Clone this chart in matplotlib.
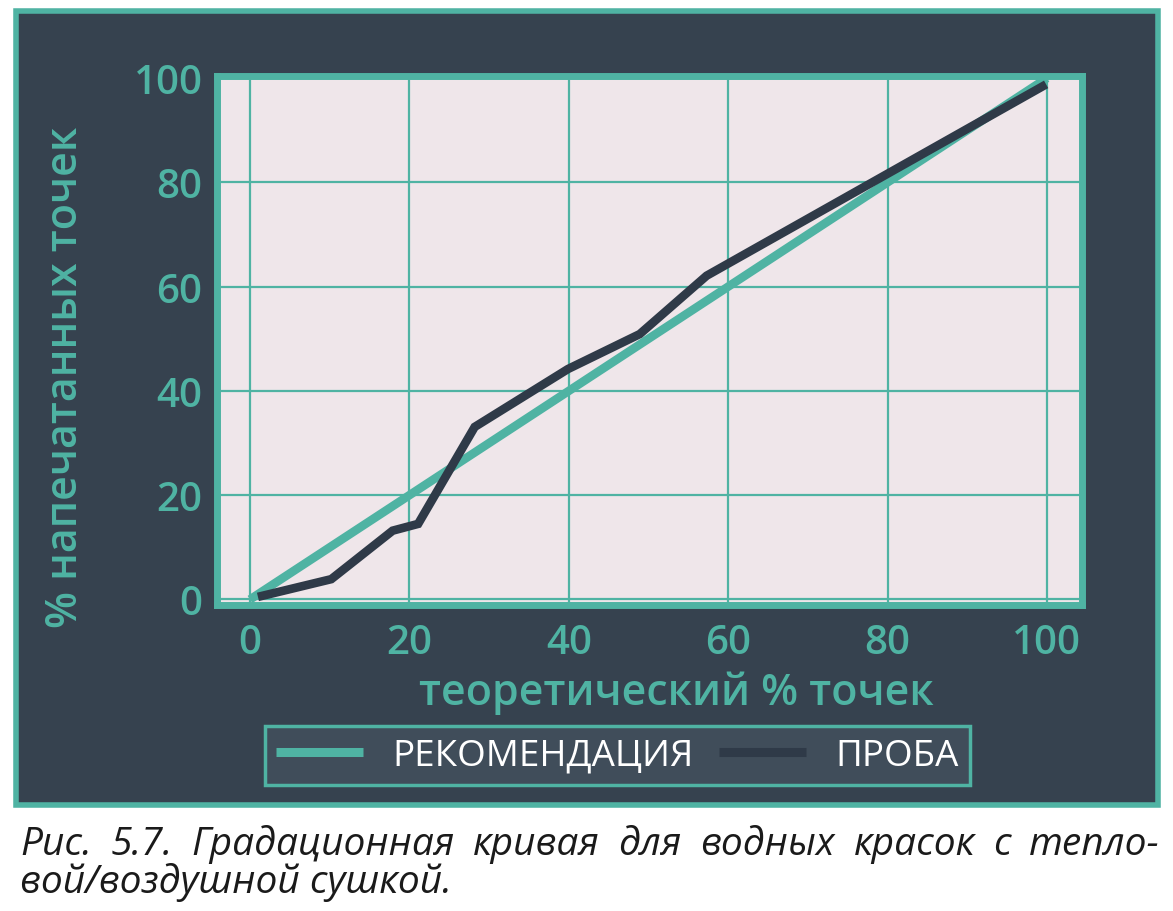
import matplotlib
matplotlib.use('Agg')
import matplotlib.pyplot as plt
from matplotlib.patches import Rectangle

# Data
theory_x = [0, 100]
theory_y = [0, 100]
sample_x = [1, 10.2, 17.9, 21.1, 28.2, 39.9, 48.9, 57.3, 99.9]
sample_y = [0.5, 3.9, 13.2, 14.5, 33.1, 44.2, 50.9, 62.1, 98.8]
ticks = [0, 20, 40, 60, 80, 100]
caption_1 = 'Рис. 5.7. Градационная кривая для водных красок с тепло-'
caption_2 = 'вой/воздушной сушкой.'

TEAL = '#4fb3a3'
DARK = '#2f3a48'
PANEL = '#36424f'
PLOT_BG = '#efe6ea'

plt.rcParams['font.family'] = ['Open Sans', 'DejaVu Sans']

W, H = 1173, 912
fig = plt.figure(figsize=(W / 100, H / 100), dpi=100)
fig.patch.set_facecolor('white')

# dark panel with teal border
panel = Rectangle((16 / W, 1 - 806 / H), (1158 - 16) / W, (806 - 12) / H,
                  transform=fig.transFigure, facecolor=PANEL, edgecolor=TEAL,
                  linewidth=4, zorder=-5)
fig.patches.append(panel)

ax = fig.add_axes([216.5 / W, 1 - 605.5 / H, (1082 - 216.5) / W, (605.5 - 76.5) / H])
ax.set_zorder(2)
ax.set_facecolor(PLOT_BG)
ax.set_xlim(-4.2, 104.4)
ax.set_ylim(-0.96, 100.5)

ax.plot(theory_x, theory_y, color=TEAL, lw=6.2, solid_capstyle='butt',
        label='РЕКОМЕНДАЦИЯ', zorder=3)
ax.plot(sample_x, sample_y, color=DARK, lw=6.2, solid_capstyle='butt',
        solid_joinstyle='miter', label='ПРОБА', zorder=4)

ax.set_xticks(ticks)
ax.set_yticks(ticks)
ax.grid(True, color=TEAL, lw=1.6)
ax.set_axisbelow(True)
ax.tick_params(length=0, labelsize=29, labelcolor=TEAL, pad=10)
ax.tick_params(axis='x', pad=13)
for lab in ax.get_xticklabels() + ax.get_yticklabels():
    lab.set_fontweight('semibold')
for s in ax.spines.values():
    s.set_color(TEAL)
    s.set_linewidth(5)

fig.text(676 / W, 1 - 693 / H, 'теоретический % точек', color=TEAL,
         fontsize=31, fontweight='semibold', ha='center', va='center')
fig.text(66 / W, 1 - 377 / H, '% напечатанных точек', color=TEAL,
         fontsize=31, fontweight='semibold', ha='center', va='center',
         rotation=90)

leg = ax.legend(loc='center', bbox_to_anchor=(617.5 / W, 1 - 756.5 / H),
                bbox_transform=fig.transFigure, ncol=2, fontsize=26.5,
                frameon=True, fancybox=False, handlelength=2.35,
                handletextpad=0.8, columnspacing=0.7, borderpad=0.3)
frame = leg.get_frame()
frame.set_facecolor('#404d5a')
frame.set_edgecolor(TEAL)
frame.set_linewidth(2.5)
frame.set_alpha(1)
for t in leg.get_texts():
    t.set_color('white')
for line in leg.get_lines():
    line.set_linewidth(6.5)

# caption: first line justified between x=20 and x=1160
renderer = fig.canvas.get_renderer()
words = caption_1.split(' ')
cap_kw = dict(fontsize=28, style='italic', color='#1a1a1a', va='baseline')
texts = [fig.text(0, 1 - 855 / H, w, ha='left', **cap_kw) for w in words]
widths = [t.get_window_extent(renderer).width for t in texts]
gap = (1160 - 20 - sum(widths)) / (len(words) - 1)
x = 20
for t, w in zip(texts, widths):
    t.set_x(x / W)
    x += w + gap
fig.text(20 / W, 1 - 893 / H, caption_2, ha='left', **cap_kw)

fig.savefig('out.png', dpi=100, facecolor=fig.get_facecolor())
